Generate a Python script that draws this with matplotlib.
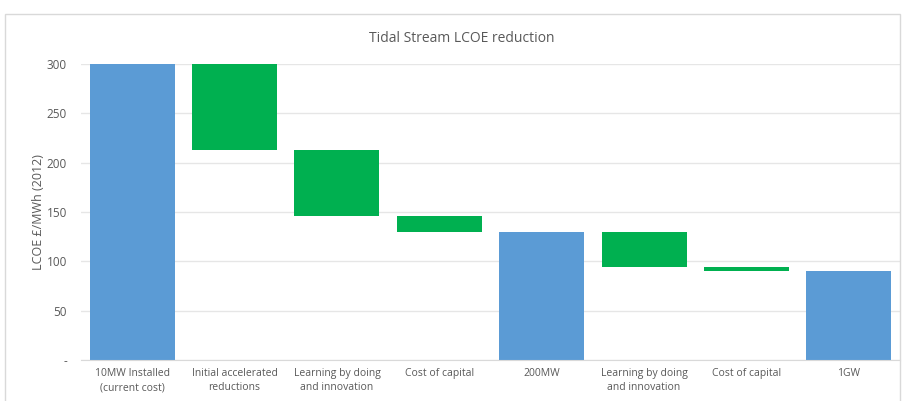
import matplotlib
matplotlib.use('Agg')
import matplotlib.pyplot as plt
from matplotlib.patches import Rectangle

categories = ["10MW Installed\n(current cost)", "Initial accelerated\nreductions",
              "Learning by doing\nand innovation", "Cost of capital", "200MW",
              "Learning by doing\nand innovation", "Cost of capital", "1GW"]
# waterfall: totals are blue, reductions are green (bottom, top)
bar_bottom = [0, 213, 146, 130, 0, 94.5, 90, 0]
bar_top = [300, 300, 213, 146, 130, 130, 94.5, 90]
is_total = [True, False, False, False, True, False, False, True]
yticks = [0, 50, 100, 150, 200, 250, 300]
ytick_labels = ["-", "50", "100", "150", "200", "250", "300"]

BLUE = "#5B9BD5"
GREEN = "#00B050"
TEXT = "#595959"

plt.rcParams['font.family'] = ['Open Sans', 'DejaVu Sans']

fig = plt.figure(figsize=(9.04, 4.01), dpi=100)
fig.patches.append(Rectangle((0.006, -0.01), 0.99, 0.975, transform=fig.transFigure,
                             fill=False, edgecolor="#D9D9D9", linewidth=1))
ax = fig.add_axes([0.0896, 0.102, 0.906, 0.738])

x = list(range(len(categories)))
heights = [t - b for t, b in zip(bar_top, bar_bottom)]
colors = [BLUE if t else GREEN for t in is_total]
ax.bar(x, heights, bottom=bar_bottom, width=0.83, color=colors, zorder=2)

ax.set_ylim(0, 300)
ax.set_xlim(-0.5, len(categories) - 0.5)
ax.set_yticks(yticks)
ax.set_yticklabels(ytick_labels, color=TEXT, fontsize=8.5)
ax.set_xticks(x)
ax.set_xticklabels(categories, color=TEXT, fontsize=7.5, linespacing=1.35)
ax.tick_params(axis='x', length=0, pad=6)
ax.tick_params(axis='y', length=0, pad=10)
ax.grid(axis='y', color="#E6E6E6", linewidth=1, zorder=0)
for s in ["top", "right", "left"]:
    ax.spines[s].set_visible(False)
ax.spines["bottom"].set_color("#D9D9D9")
ax.set_ylabel("LCOE £/MWh (2012)", color=TEXT, fontsize=9, labelpad=1)
fig.text(0.511, 0.905, "Tidal Stream LCOE reduction", ha='center', va='center',
         color=TEXT, fontsize=10)

fig.savefig("out.png", dpi=100)
